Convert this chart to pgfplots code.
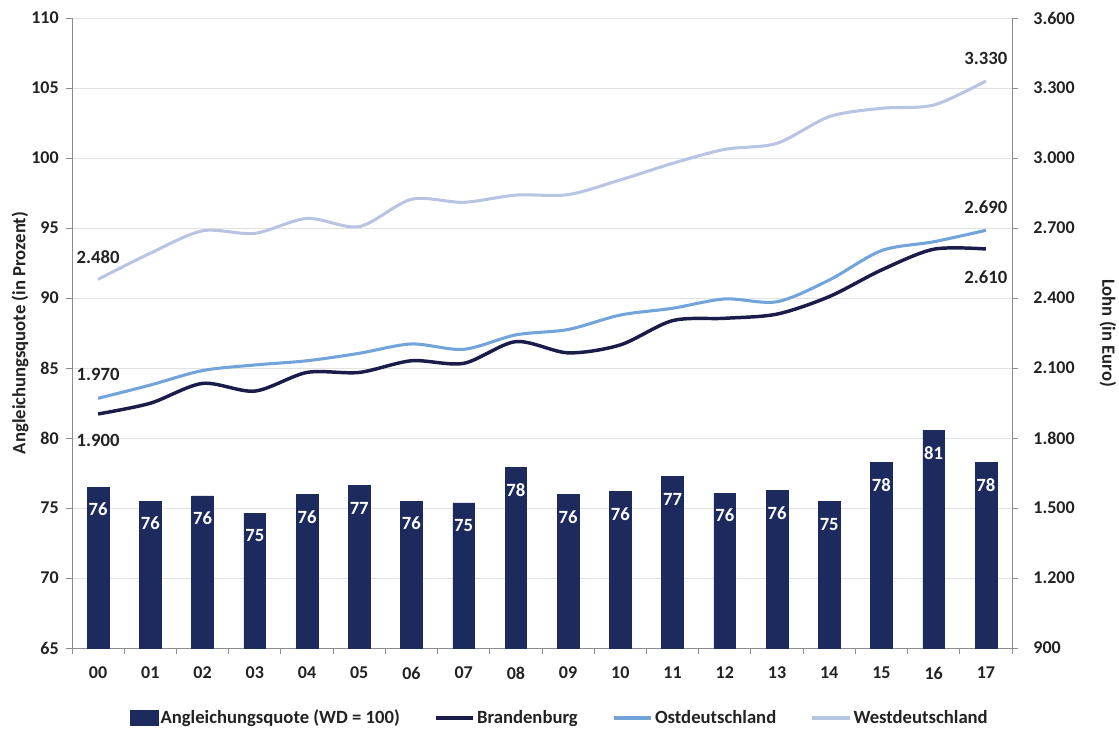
\documentclass[border=0pt]{standalone}
\usepackage{pgfplots}
\usepackage{pgfplotstable}
\pgfplotsset{compat=1.18}
\usepackage{fontspec}
\setmainfont{Carlito}
\definecolor{barc}{HTML}{1C2A5E}
\definecolor{brb}{HTML}{1A1D4A}
\definecolor{ost}{HTML}{72A3DA}
\definecolor{west}{HTML}{B8C5E2}
\definecolor{gridc}{HTML}{E2E2E2}
\definecolor{axc}{HTML}{8C8C8C}
\definecolor{txt}{HTML}{222222}

\pgfplotstableread{
x q lab
0 76.5 76
1 75.5 76
2 75.86 76
3 74.64 75
4 75.98 76
5 76.6 77
6 75.5 76
7 75.36 75
8 77.9 78
9 75.98 76
10 76.17 76
11 77.24 77
12 76.07 76
13 76.26 76
14 75.45 75
15 78.24 78
16 80.52 81
17 78.24 78
}\quotetab

\pgfplotstableread{
x brb ost west
0 1903 1970 2480
1 1949 2027 2592
2 2034 2089 2688
3 2001 2113 2677
4 2081 2131 2741
5 2081 2163 2706
6 2131 2203 2823
7 2120 2180 2810
8 2213 2242 2841
9 2165 2265 2843
10 2199 2327 2906
11 2303 2356 2977
12 2313 2396 3037
13 2331 2384 3063
14 2406 2477 3177
15 2520 2603 3213
16 2609 2641 3227
17 2610 2690 3330
}\lohntab

\newcommand{\tf}{\fontsize{13.5}{15}\selectfont\bfseries}
\newcommand{\lf}{\fontsize{14}{16}\selectfont\bfseries}

\pgfplotsset{
  base/.style={
    scale only axis, width=705pt, height=472.5pt,
    xmin=-0.5, xmax=17.5,
    font=\tf,
    every tick label/.append style={font=\tf, text=txt},
    /pgf/number format/assume math mode=true,
    /pgf/number format/1000 sep={.},
    axis line style={axc, line width=0.6pt},
    major tick style={axc, line width=0.6pt},
    minor tick style={axc, line width=0.6pt},
    tick align=outside,
    major tick length=4.5pt,
    minor tick length=4.5pt,
  }
}

\begin{document}
\begin{tikzpicture}
\useasboundingbox (-54pt,-65.25pt) rectangle (785.25pt,486pt);
\begin{axis}[base,
  ymin=65, ymax=110, ytick={65,70,...,110},
  axis y line*=left, axis x line*=bottom,
  xtick={0,...,17},
  xticklabels={00,01,02,03,04,05,06,07,08,09,10,11,12,13,14,15,16,17},
  major x tick style={draw=none},
  minor xtick={-0.5,0.5,...,17.5},
  xticklabel style={yshift=-6pt},
  yticklabel style={xshift=-2pt},
  ymajorgrids, grid style={gridc, line width=0.6pt},
  ylabel={Angleichungsquote (in Prozent)},
  ylabel style={at={(axis description cs:-0.0553,0.5)}, anchor=center, font=\lf, text=txt},
]
\addplot[ybar, bar width=16.3pt, bar shift=0pt, fill=barc, draw=barc,
  nodes near coords, point meta=explicit symbolic,
  every node near coord/.append style={anchor=center, yshift=-17pt, text=white, font=\lf}]
  table[x=x, y=q, meta=lab] {\quotetab};
\end{axis}
\begin{axis}[base,
  ymin=900, ymax=3600, ytick={900,1200,...,3600},
  axis y line*=right, axis x line=none,
  yticklabel style={xshift=8pt},
  ylabel={Lohn (in Euro)},
  ylabel style={at={(axis description cs:1.102,0.5)}, anchor=center, rotate=180, font=\lf, text=txt},
  legend style={at={(axis description cs:0.519,-0.111)}, anchor=center, draw=none,
    font=\lf, text=txt, legend columns=4,
    nodes={inner xsep=1.5pt},
    /tikz/every even column/.append style={column sep=24pt}},
  legend image code/.code={\draw[#1, line width=3pt] (0pt,0pt) -- (28pt,0pt);},
]
\addlegendimage{legend image code/.code={\fill[barc] (0pt,-5.5pt) rectangle (21pt,5.5pt);}}
\addplot[brb, line width=2.6pt, smooth] table[x=x, y=brb] {\lohntab};
\addplot[ost, line width=2.3pt, smooth] table[x=x, y=ost] {\lohntab};
\addplot[west, line width=2.3pt, smooth] table[x=x, y=west] {\lohntab};
\legend{Angleichungsquote (WD = 100),Brandenburg,Ostdeutschland,Westdeutschland}
\node[text=txt, font=\lf, yshift=16.5pt] at (axis cs:0,2480) {2.480};
\node[text=txt, font=\lf, yshift=18pt] at (axis cs:0,1970) {1.970};
\node[text=txt, font=\lf, yshift=-19.5pt] at (axis cs:0,1903) {1.900};
\node[text=txt, font=\lf, yshift=17pt] at (axis cs:17,3330) {3.330};
\node[text=txt, font=\lf, yshift=17pt] at (axis cs:17,2690) {2.690};
\node[text=txt, font=\lf, yshift=-21pt] at (axis cs:17,2610) {2.610};
\end{axis}
\end{tikzpicture}
\end{document}
